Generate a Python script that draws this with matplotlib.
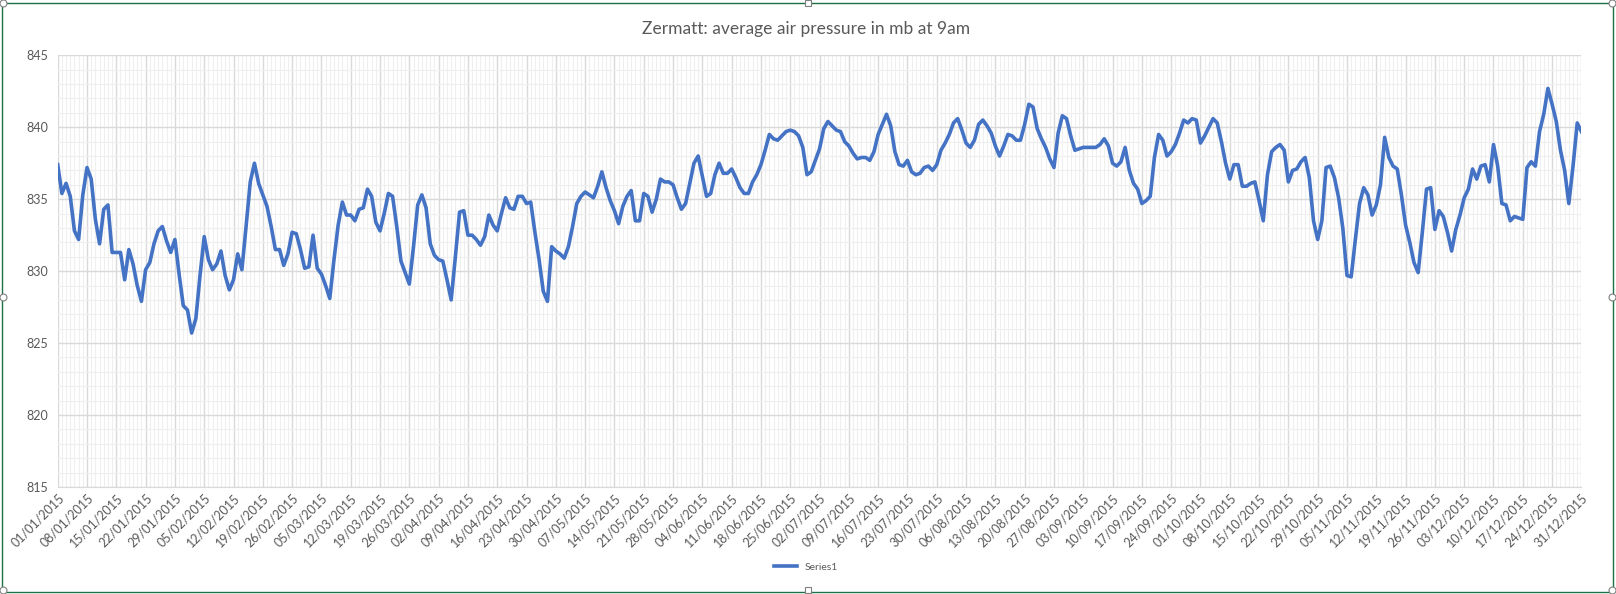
import matplotlib
matplotlib.use("Agg")
import matplotlib.pyplot as plt
import matplotlib.dates as mdates
from matplotlib.ticker import MultipleLocator
from matplotlib.patches import Rectangle
import pandas as pd

title = "Zermatt: average air pressure in mb at 9am"
series_name = "Series1"
start_date = "2015-01-01"
end_date = "2015-12-31"
y_ticks = [815, 820, 825, 830, 835, 840, 845]

pressure = [
    837.4, 835.4, 836.1, 835.2, 832.8, 832.2, 835.3, 837.2, 836.4, 833.6,
    831.9, 834.3, 834.6, 831.3, 831.3, 831.3, 829.4, 831.5, 830.5, 829.0,
    827.9, 830.1, 830.6, 831.9, 832.8, 833.1, 832.1, 831.3, 832.2, 829.8,
    827.6, 827.3, 825.7, 826.7, 829.7, 832.4, 830.8, 830.1, 830.5, 831.4,
    829.7, 828.7, 829.4, 831.2, 830.1, 833.1, 836.2, 837.5, 836.1, 835.3,
    834.5, 833.1, 831.5, 831.5, 830.4, 831.2, 832.7, 832.6, 831.5, 830.2,
    830.3, 832.5, 830.2, 829.8, 829.0, 828.1, 830.8, 833.2, 834.8, 833.9,
    833.9, 833.5, 834.3, 834.4, 835.7, 835.2, 833.4, 832.8, 834.0, 835.4,
    835.2, 833.1, 830.7, 829.9, 829.1, 831.7, 834.6, 835.3, 834.4, 831.9,
    831.1, 830.8, 830.7, 829.4, 828.0, 831.0, 834.1, 834.2, 832.5, 832.5,
    832.2, 831.8, 832.4, 833.9, 833.2, 832.8, 834.0, 835.1, 834.4, 834.3,
    835.2, 835.2, 834.7, 834.8, 832.7, 830.8, 828.6, 827.9, 831.7, 831.4,
    831.2, 830.9, 831.7, 833.1, 834.7, 835.2, 835.5, 835.3, 835.1, 835.9,
    836.9, 835.8, 834.9, 834.2, 833.3, 834.5, 835.2, 835.6, 833.5, 833.5,
    835.4, 835.2, 834.1, 835.0, 836.4, 836.2, 836.2, 836.0, 835.1, 834.3,
    834.7, 836.1, 837.5, 838.0, 836.6, 835.2, 835.4, 836.7, 837.5, 836.8,
    836.8, 837.1, 836.5, 835.8, 835.4, 835.4, 836.2, 836.7, 837.4, 838.4,
    839.5, 839.2, 839.1, 839.4, 839.7, 839.8, 839.7, 839.4, 838.6, 836.7,
    836.9, 837.7, 838.5, 839.9, 840.4, 840.1, 839.8, 839.7, 839.0, 838.7,
    838.2, 837.8, 837.9, 837.9, 837.7, 838.3, 839.5, 840.2, 840.9, 840.1,
    838.3, 837.4, 837.3, 837.7, 836.9, 836.7, 836.8, 837.2, 837.3, 837.0,
    837.4, 838.4, 838.9, 839.5, 840.3, 840.6, 839.8, 838.9, 838.6, 839.1,
    840.2, 840.5, 840.1, 839.6, 838.7, 838.0, 838.7, 839.5, 839.4, 839.1,
    839.1, 840.2, 841.6, 841.4, 839.9, 839.2, 838.6, 837.8, 837.2, 839.6,
    840.8, 840.6, 839.4, 838.4, 838.5, 838.6, 838.6, 838.6, 838.6, 838.8,
    839.2, 838.7, 837.5, 837.3, 837.6, 838.6, 837.0, 836.1, 835.7, 834.7,
    834.9, 835.2, 837.9, 839.5, 839.1, 838.0, 838.3, 838.8, 839.6, 840.5,
    840.3, 840.6, 840.5, 838.9, 839.4, 840.0, 840.6, 840.3, 839.0, 837.5,
    836.4, 837.4, 837.4, 835.9, 835.9, 836.1, 836.2, 834.9, 833.5, 836.7,
    838.3, 838.6, 838.8, 838.4, 836.2, 837.0, 837.1, 837.6, 837.9, 836.5,
    833.5, 832.2, 833.5, 837.2, 837.3, 836.5, 835.1, 833.0, 829.7, 829.6,
    832.2, 834.7, 835.8, 835.3, 833.9, 834.6, 836.0, 839.3, 837.9, 837.3,
    837.1, 835.3, 833.2, 832.0, 830.6, 829.9, 832.7, 835.7, 835.8, 832.9,
    834.2, 833.8, 832.7, 831.4, 832.9, 833.9, 835.1, 835.7, 837.1, 836.4,
    837.3, 837.4, 836.2, 838.8, 837.3, 834.7, 834.6, 833.5, 833.8, 833.7,
    833.6, 837.2, 837.6, 837.3, 839.7, 840.9, 842.7, 841.6, 840.4, 838.4,
    837.0, 834.7, 837.3, 840.3, 839.7,
]

dates = pd.date_range(start_date, end_date, freq="D")
week_ticks = dates[::7]

plt.rcParams["font.family"] = ["Lato", "DejaVu Sans"]
text_col = "#595959"
major_grid = "#d9d9d9"
minor_grid = "#efefef"
line_col = "#4472C4"

W, H = 1616, 594
fig = plt.figure(figsize=(W / 100, H / 100), dpi=100)
fig.patch.set_facecolor("white")

ax = fig.add_axes([57.7 / W, 1 - 487 / H, (1581.4 - 57.7) / W, (487 - 55.3) / H])
ax.plot(dates, pressure, color=line_col, linewidth=2.6, solid_joinstyle="round",
        label=series_name, zorder=3)

ax.set_xlim(dates[0], dates[-1])
ax.set_ylim(815, 845)
ax.set_yticks(y_ticks)
ax.yaxis.set_minor_locator(MultipleLocator(1))
ax.set_xticks(week_ticks)
ax.set_xticks(dates, minor=True)
ax.xaxis.set_major_formatter(mdates.DateFormatter("%d/%m/%Y"))

ax.grid(which="major", color=major_grid, linewidth=1.0, zorder=1)
ax.grid(which="minor", color=minor_grid, linewidth=0.8, zorder=0)
ax.set_axisbelow(True)

for s in ["top", "right", "left"]:
    ax.spines[s].set_visible(False)
ax.spines["bottom"].set_color(major_grid)

ax.tick_params(axis="both", which="both", length=0)
ax.tick_params(axis="y", labelsize=9, labelcolor=text_col, pad=7)
ax.tick_params(axis="x", labelsize=9, labelcolor=text_col, pad=3)
for lab in ax.get_xticklabels():
    lab.set_rotation(45)
    lab.set_ha("right")
    lab.set_va("top")
    lab.set_rotation_mode("anchor")

fig.text(806 / W, 1 - 29 / H, title, ha="center", va="center",
         fontsize=12.5, color=text_col)

ax.legend(loc="center", bbox_to_anchor=(806 / W, 1 - 567 / H),
          bbox_transform=fig.transFigure, frameon=False, fontsize=7.5,
          handlelength=2.2, labelcolor=text_col)

# chart frame (selected-chart look)
frame_col = "#1e7145"
fig.patches.append(Rectangle((2 / W, 2 / H), (W - 5) / W, (H - 5) / H,
                             transform=fig.transFigure, fill=False,
                             edgecolor=frame_col, linewidth=1.0))
handles_circ = [(3, 3), (W - 4, 3), (3, H - 4), (W - 4, H - 4), (3, H / 2), (W - 4, H / 2)]
handles_sq = [(W / 2, 3), (W / 2, H - 4)]
for (hx, hy) in handles_circ:
    fig.add_artist(plt.Line2D([hx / W], [1 - hy / H], marker="o", markersize=5,
                              markerfacecolor="white", markeredgecolor="#7f7f7f",
                              markeredgewidth=0.8, transform=fig.transFigure))
for (hx, hy) in handles_sq:
    fig.add_artist(plt.Line2D([hx / W], [1 - hy / H], marker="s", markersize=4.5,
                              markerfacecolor="white", markeredgecolor="#7f7f7f",
                              markeredgewidth=0.8, transform=fig.transFigure))

fig.savefig("out.png", dpi=100, facecolor="white")
